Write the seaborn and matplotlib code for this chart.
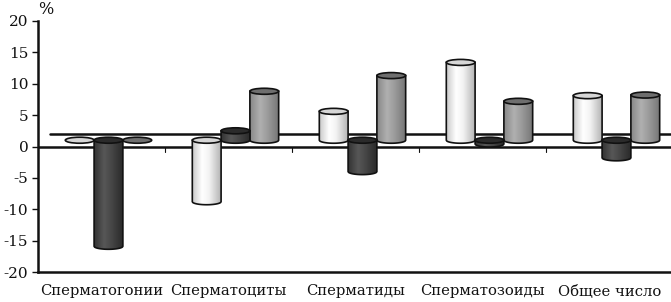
import numpy as np
import pandas as pd
import matplotlib
matplotlib.use("Agg")
import matplotlib.pyplot as plt
import seaborn as sns
from matplotlib.path import Path
from matplotlib.patches import Ellipse, PathPatch
from matplotlib.colors import LinearSegmentedColormap

categories = ["Сперматогонии", "Сперматоциты", "Сперматиды", "Сперматозоиды", "Общее число"]
series_names = ["A", "B", "C"]
white_vals = [0.0, -9.8, 4.6, 12.4, 7.1]
dark_vals = [-16.9, 1.5, -5.0, -0.6, -2.8]
gray_vals = [0.0, 7.8, 10.3, 6.2, 7.2]
yticks = [-20, -15, -10, -5, 0, 5, 10, 15, 20]
reference_level = 2.0

sns.set_theme(style="white")
plt.rcParams["font.family"] = ["DejaVu Serif"]
plt.rcParams["axes.unicode_minus"] = False

df = pd.DataFrame({
    "cat": categories * 3,
    "val": white_vals + dark_vals + gray_vals,
    "series": sum([[s] * len(categories) for s in series_names], []),
})

fig = plt.figure(figsize=(6.71, 3.02), dpi=100)
ax = fig.add_axes([38 / 671, 1 - 272 / 302, 635 / 671, 251 / 302])

body_cols = {
    "A": ["#c8c8c8", "#ffffff", "#f2f2f2", "#b5b5b5"],
    "B": ["#333333", "#575757", "#474747", "#2a2a2a"],
    "C": ["#888888", "#b0b0b0", "#9c9c9c", "#767676"],
}
cap_cols = {"A": "#d6d6d6", "B": "#2b2b2b", "C": "#6e6e6e"}

sns.barplot(data=df, x="cat", y="val", hue="series", hue_order=series_names,
            order=categories, palette=["#ffffff", "#444444", "#999999"],
            width=0.68, dodge=True, legend=False, ax=ax, errorbar=None)

base = 1.0      # visual base of 3D cylinders
shift = 0.055   # 3D depth shift to the right
ry = 0.48       # ellipse semi-height in data units

ax.set_xlim(-0.5, 4.5)
ax.set_ylim(-20, 20)

for si, cont in enumerate(ax.containers):
    s = series_names[si]
    cmap = LinearSegmentedColormap.from_list("g" + s, list(zip([0, 0.35, 0.6, 1.0], body_cols[s])))
    for p in cont.patches:
        x0 = p.get_x() + shift
        w = p.get_width()
        v = p.get_height()
        p.set_x(x0)
        p.set_y(base)
        p.set_facecolor("none")
        p.set_edgecolor("none")
        x1 = x0 + w
        xc = x0 + w / 2
        rx = w / 2
        top = base + max(v, 0)
        bot = base + min(v, 0)
        if abs(v) > 1e-6:
            xs = np.linspace(x0, x1, 60)
            arc = bot - ry * np.sqrt(np.clip(1 - ((xs - xc) / rx) ** 2, 0, 1))
            verts = [(x0, top), (x0, bot)] + list(zip(xs, arc)) + [(x1, top), (x0, top)]
            codes = [Path.MOVETO] + [Path.LINETO] * (len(verts) - 2) + [Path.CLOSEPOLY]
            path = Path(verts, codes)
            grad = np.linspace(0, 1, 100).reshape(1, -1)
            im = ax.imshow(grad, cmap=cmap, extent=(x0, x1, bot - ry, top),
                           aspect="auto", origin="lower", zorder=3, interpolation="bilinear")
            outline = PathPatch(path, facecolor="none", edgecolor="#111111", lw=1.2, zorder=3.5)
            ax.add_patch(outline)
            im.set_clip_path(outline)
        ax.add_patch(Ellipse((xc, top), w, 2 * ry, facecolor=cap_cols[s],
                             edgecolor="#111111", lw=1.2, zorder=4))

ax.set_xlim(-0.5, 4.5)
ax.set_ylim(-20, 20)

# reference lines
ax.plot([-0.5, 4.5], [0, 0], color="#111111", lw=1.8, zorder=2)
ax.plot([-0.405, 4.5], [reference_level, reference_level], color="#111111", lw=1.8, zorder=2)
for k in range(1, 5):
    ax.plot([k - 0.5, k - 0.5], [0, -0.8], color="#111111", lw=0.8, zorder=2)

ax.set_yticks(yticks)
ax.set_yticklabels([str(t) for t in yticks], fontsize=11, color="#111111")
ax.set_xticks(range(len(categories)))
ax.set_xticklabels(categories, fontsize=10.6, color="#111111")
ax.tick_params(axis="x", length=0, pad=9)
ax.tick_params(axis="y", length=4, width=1, direction="out", pad=3, left=True, colors="#111111")
ax.set_xlabel("")
ax.set_ylabel("")
for side in ["top", "right"]:
    ax.spines[side].set_visible(False)
for side in ["left", "bottom"]:
    ax.spines[side].set_visible(True)
    ax.spines[side].set_color("#111111")
    ax.spines[side].set_linewidth(1.8)
ax.grid(False)

fig.text(38 / 671, 1 - 9 / 302, "%", fontsize=11.5, ha="left", va="center", color="#111111")

fig.savefig("out.png", dpi=100)
